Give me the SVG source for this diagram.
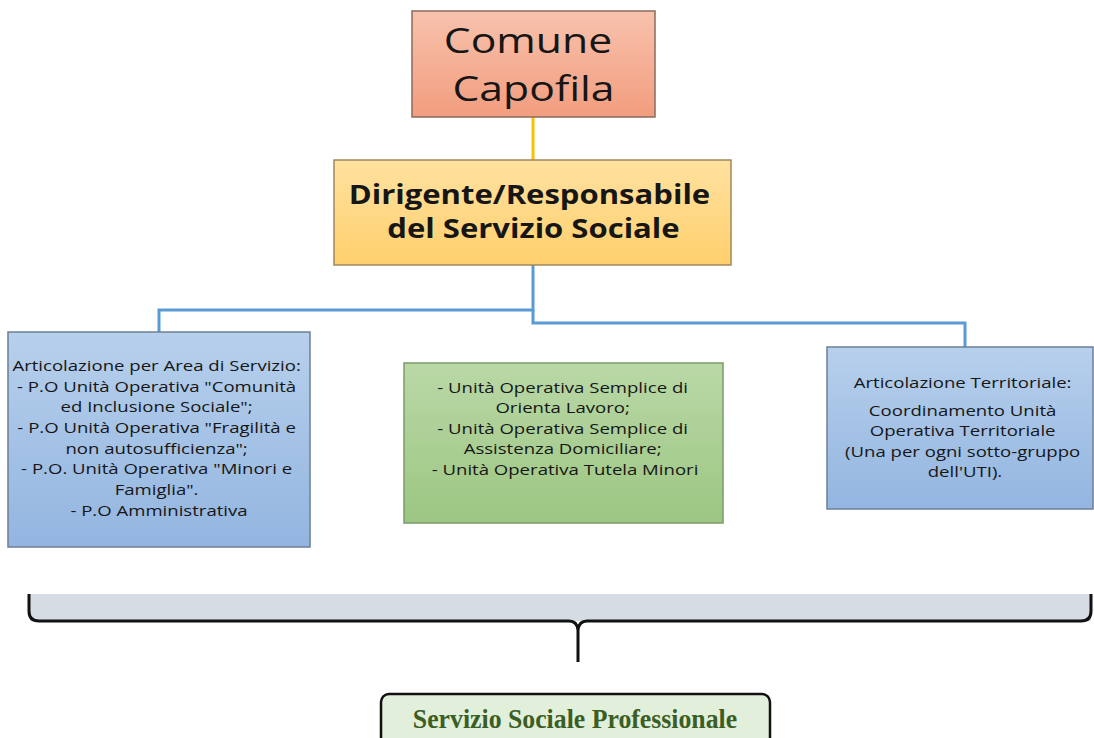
<svg xmlns="http://www.w3.org/2000/svg" width="1094" height="738" viewBox="0 0 1094 738">
  <defs>
    <linearGradient id="gRed" x1="0" y1="0" x2="0" y2="1">
      <stop offset="0" stop-color="#f8c2ad"/>
      <stop offset="1" stop-color="#f29d7e"/>
    </linearGradient>
    <linearGradient id="gGold" x1="0" y1="0" x2="0" y2="1">
      <stop offset="0" stop-color="#ffe1a0"/>
      <stop offset="1" stop-color="#ffd06c"/>
    </linearGradient>
    <linearGradient id="gBlue" x1="0" y1="0" x2="0" y2="1">
      <stop offset="0" stop-color="#b7d0ec"/>
      <stop offset="1" stop-color="#93b5e0"/>
    </linearGradient>
    <linearGradient id="gGreen" x1="0" y1="0" x2="0" y2="1">
      <stop offset="0" stop-color="#b9d8a6"/>
      <stop offset="1" stop-color="#9cc682"/>
    </linearGradient>
    <style>
      .box { stroke-width: 1.5; }
      .txt { font-family: "Open Sans", "Liberation Sans", sans-serif; fill: #161616; text-anchor: middle; }
      .small { font-size: 14.8px; }
      .conn { fill: none; stroke-width: 3; }
    </style>
  </defs>

  <rect width="1094" height="738" fill="#ffffff"/>

  <!-- connectors -->
  <g id="connectors">
    <line class="conn" x1="533" y1="117" x2="533" y2="160" stroke="#ffc000" stroke-width="2"/>
    <path class="conn" d="M533 265 V310 H159 V332" stroke="#5b9bd5"/>
    <path class="conn" d="M533 310 V323 H965 V347" stroke="#5b9bd5"/>
  </g>

  <!-- top node -->
  <g id="comune">
    <rect class="box" x="412" y="11" width="243" height="106" fill="url(#gRed)" stroke="#8a6b5e"/>
    <text class="txt" font-size="35" transform="translate(533.5 0) scale(1.22 1)">
      <tspan x="0" y="53">Comune</tspan>
      <tspan x="0" y="101">Capofila</tspan>
    </text>
  </g>

  <g id="dirigente">
    <rect class="box" x="334" y="160" width="397" height="105" fill="url(#gGold)" stroke="#a0895e"/>
    <text class="txt" font-size="27" font-weight="bold" transform="translate(533.5 0) scale(1.15 1)">
      <tspan x="0" y="204">Dirigente/Responsabile</tspan>
      <tspan x="0" y="238">del Servizio Sociale</tspan>
    </text>
  </g>

  <g id="area-servizio">
    <rect class="box" x="8" y="332" width="302" height="215" fill="url(#gBlue)" stroke="#6d7f94"/>
    <text class="txt small" transform="translate(159 0) scale(1.255 1)">
      <tspan x="0" y="371">Articolazione per Area di Servizio:</tspan>
      <tspan x="0" y="391.7">- P.O Unità Operativa "Comunità</tspan>
      <tspan x="0" y="412.4">ed Inclusione Sociale";</tspan>
      <tspan x="0" y="433.1">- P.O Unità Operativa "Fragilità e</tspan>
      <tspan x="0" y="453.8">non autosufficienza";</tspan>
      <tspan x="0" y="474.5">- P.O. Unità Operativa "Minori e</tspan>
      <tspan x="0" y="495.2">Famiglia".</tspan>
      <tspan x="0" y="515.9">- P.O Amministrativa</tspan>
    </text>
  </g>

  <g id="unita-semplici">
    <rect class="box" x="404" y="363" width="319" height="160" fill="url(#gGreen)" stroke="#7b9a69"/>
    <text class="txt small" transform="translate(565 0) scale(1.255 1)">
      <tspan x="0" y="393">- Unità Operativa Semplice di</tspan>
      <tspan x="0" y="413.4">Orienta Lavoro;</tspan>
      <tspan x="0" y="433.8">- Unità Operativa Semplice di</tspan>
      <tspan x="0" y="454.2">Assistenza Domiciliare;</tspan>
      <tspan x="0" y="474.6">- Unità Operativa Tutela Minori</tspan>
    </text>
  </g>

  <g id="territoriale">
    <rect class="box" x="827" y="347" width="266" height="162" fill="url(#gBlue)" stroke="#6d7f94"/>
    <text class="txt small" transform="translate(965 0) scale(1.255 1)">
      <tspan x="0" y="388">Articolazione Territoriale:</tspan>
      <tspan x="0" y="416">Coordinamento Unità</tspan>
      <tspan x="0" y="436.5">Operativa Territoriale</tspan>
      <tspan x="0" y="457">(Una per ogni sotto-gruppo</tspan>
      <tspan x="0" y="477.5">dell'UTI).</tspan>
    </text>
  </g>

  <!-- grouping brace -->
  <g id="brace">
    <rect x="30" y="594" width="1061" height="27" fill="#d6dce4"/>
    <path d="M29 594 V611 Q29 621 39 621 H569 Q577 621 578 630 Q579 621 587 621 H1081 Q1091 621 1091 611 V594 M578 628 V662" fill="none" stroke="#111111" stroke-width="3"/>
  </g>

  <g id="servizio-professionale">
    <rect x="381" y="694" width="389" height="60" rx="8" fill="#e2efda" stroke="#111111" stroke-width="2.5"/>
    <text font-family="Liberation Serif, serif" font-weight="bold" font-size="27" fill="#3b5e25" text-anchor="middle" transform="translate(575 728) scale(0.955 1)" x="0" y="0">Servizio Sociale Professionale</text>
  </g>
</svg>
